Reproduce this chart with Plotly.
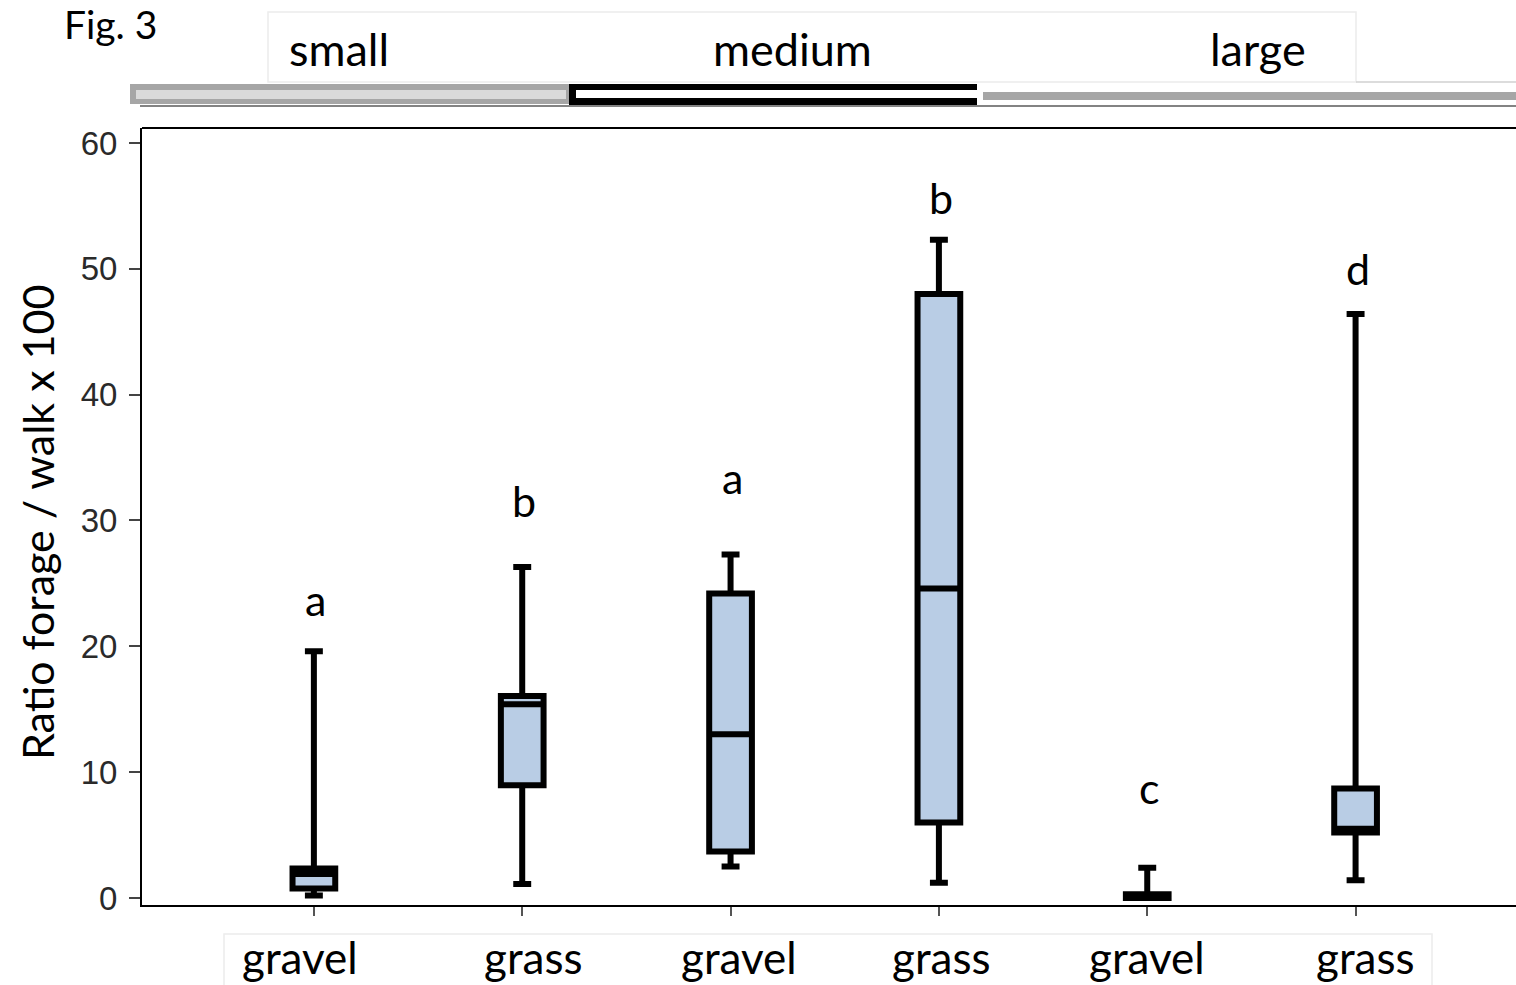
import plotly.graph_objects as go

# ---------------- data ----------------
categories = ["gravel", "grass", "gravel", "grass", "gravel", "grass"]
sizes = ["small", "medium", "large"]
q1 = [0.75, 8.95, 3.7, 6.0, 0.0, 5.2]
median = [1.9, 15.4, 13.0, 24.6, 0.0, 5.5]
q3 = [2.35, 16.05, 24.2, 48.0, 0.3, 8.7]
lower = [0.2, 1.1, 2.5, 1.2, 0.0, 1.4]
upper = [19.6, 26.3, 27.3, 52.3, 2.4, 46.4]
letters = ["a", "b", "a", "b", "c", "d"]
letter_y = [23.7, 31.6, 33.4, 55.7, 8.8, 50.0]
y_ticks = [0, 10, 20, 30, 40, 50, 60]

# ---------------- layout helpers (pixel geometry) ----------------
W, H = 1516, 985
L, T, R, B = 142, 128, 0, 80
PW, PH = W - L - R, H - T - B


def px(x):
    return (x - L) / PW


def py(y):
    return (H - B - y) / PH


CAL = "Lato, 'Open Sans', sans-serif"
ARI = "'Liberation Sans', Arial, sans-serif"

xs = list(range(len(categories)))

fig = go.Figure()
fig.add_trace(go.Box(
    x=xs, q1=q1, median=median, q3=q3, lowerfence=lower, upperfence=upper,
    fillcolor="#b9cde5", line=dict(color="black", width=6),
    whiskerwidth=0.42, width=0.205, boxpoints=False, hoverinfo="skip",
    showlegend=False,
))

shapes = []
# plot frame top line
shapes.append(dict(type="line", xref="paper", yref="paper", x0=0, x1=1, y0=1, y1=1,
                   line=dict(color="black", width=2)))
# top label box
shapes.append(dict(type="rect", xref="paper", yref="paper", x0=px(268), x1=px(1356),
                   y0=py(82), y1=py(12), line=dict(color="#ececec", width=1.5),
                   fillcolor="white", layer="below"))
shapes.append(dict(type="line", xref="paper", yref="paper", x0=px(1356), x1=px(1516),
                   y0=py(82), y1=py(82), line=dict(color="#d0d0d0", width=1.5)))
# size bars
shapes.append(dict(type="rect", xref="paper", yref="paper", x0=px(130), x1=px(570),
                   y0=py(104), y1=py(84), line=dict(width=0), fillcolor="#a6a6a6"))
shapes.append(dict(type="rect", xref="paper", yref="paper", x0=px(136), x1=px(566),
                   y0=py(99), y1=py(90), line=dict(width=0), fillcolor="#dadada"))
shapes.append(dict(type="rect", xref="paper", yref="paper", x0=px(569), x1=px(977),
                   y0=py(105), y1=py(84), line=dict(width=0), fillcolor="black"))
shapes.append(dict(type="rect", xref="paper", yref="paper", x0=px(576), x1=px(977),
                   y0=py(98), y1=py(90), line=dict(width=0), fillcolor="white"))
shapes.append(dict(type="rect", xref="paper", yref="paper", x0=px(983), x1=px(1516),
                   y0=py(100), y1=py(92), line=dict(width=0), fillcolor="#a6a6a6"))
shapes.append(dict(type="line", xref="paper", yref="paper", x0=px(140), x1=px(1516),
                   y0=py(106), y1=py(106), line=dict(color="#5a5a5a", width=1.5)))
# bottom label box
shapes.append(dict(type="rect", xref="paper", yref="paper", x0=px(224), x1=px(1432),
                   y0=py(990), y1=py(934), line=dict(color="#ececec", width=1.5),
                   fillcolor="white", layer="below"))

annotations = []
annotations.append(dict(text="Fig. 3", xref="paper", yref="paper", x=px(62), y=py(24),
                        xanchor="left", yanchor="middle", showarrow=False,
                        font=dict(family=CAL, size=39, color="black")))
size_x = [339, 792, 1258]
for s, xp in zip(sizes, size_x):
    annotations.append(dict(text=s, xref="paper", yref="paper", x=px(xp), y=py(49),
                            xanchor="center", yanchor="middle", showarrow=False,
                            font=dict(family=CAL, size=45, color="black")))
label_x = [300, 533, 739, 942, 1147, 1365]
for c, xp in zip(categories, label_x):
    annotations.append(dict(text=c, xref="paper", yref="paper", x=px(xp), y=py(957),
                            xanchor="center", yanchor="middle", showarrow=False,
                            font=dict(family=CAL, size=44, color="black")))
for i, (lt, ly) in enumerate(zip(letters, letter_y)):
    annotations.append(dict(text=lt, x=xs[i], y=ly, xref="x", yref="y", xshift=2,
                            xanchor="center", yanchor="middle", showarrow=False,
                            font=dict(family=CAL, size=43, color="black")))
annotations.append(dict(text="Ratio forage / walk x 100", xref="paper", yref="paper",
                        x=px(37), y=py(523), xanchor="center", yanchor="middle",
                        textangle=-90, showarrow=False,
                        font=dict(family=CAL, size=43, color="black")))

fig.update_layout(
    width=W, height=H,
    margin=dict(l=L, r=R, t=T, b=B, pad=0),
    paper_bgcolor="white", plot_bgcolor="white",
    shapes=shapes, annotations=annotations,
    xaxis=dict(range=[-0.825, 5.77], tickvals=xs, showticklabels=False,
               ticks="outside", ticklen=9, tickcolor="#555", tickwidth=1.5,
               showline=True, linecolor="black", linewidth=2,
               showgrid=False, zeroline=False, fixedrange=True),
    yaxis=dict(range=[-0.56, 61.19], tickvals=y_ticks,
               ticks="outside", ticklen=11, tickcolor="#444", tickwidth=1.5,
               showline=True, linecolor="black", linewidth=2,
               showgrid=False, zeroline=False,
               tickfont=dict(family=ARI, size=33, color="#2a2a2a"),
               ticklabelstandoff=5, fixedrange=True),
)

fig.write_html("out.html", post_script="document.body.style.margin='0';",
               config={"displayModeBar": False})
